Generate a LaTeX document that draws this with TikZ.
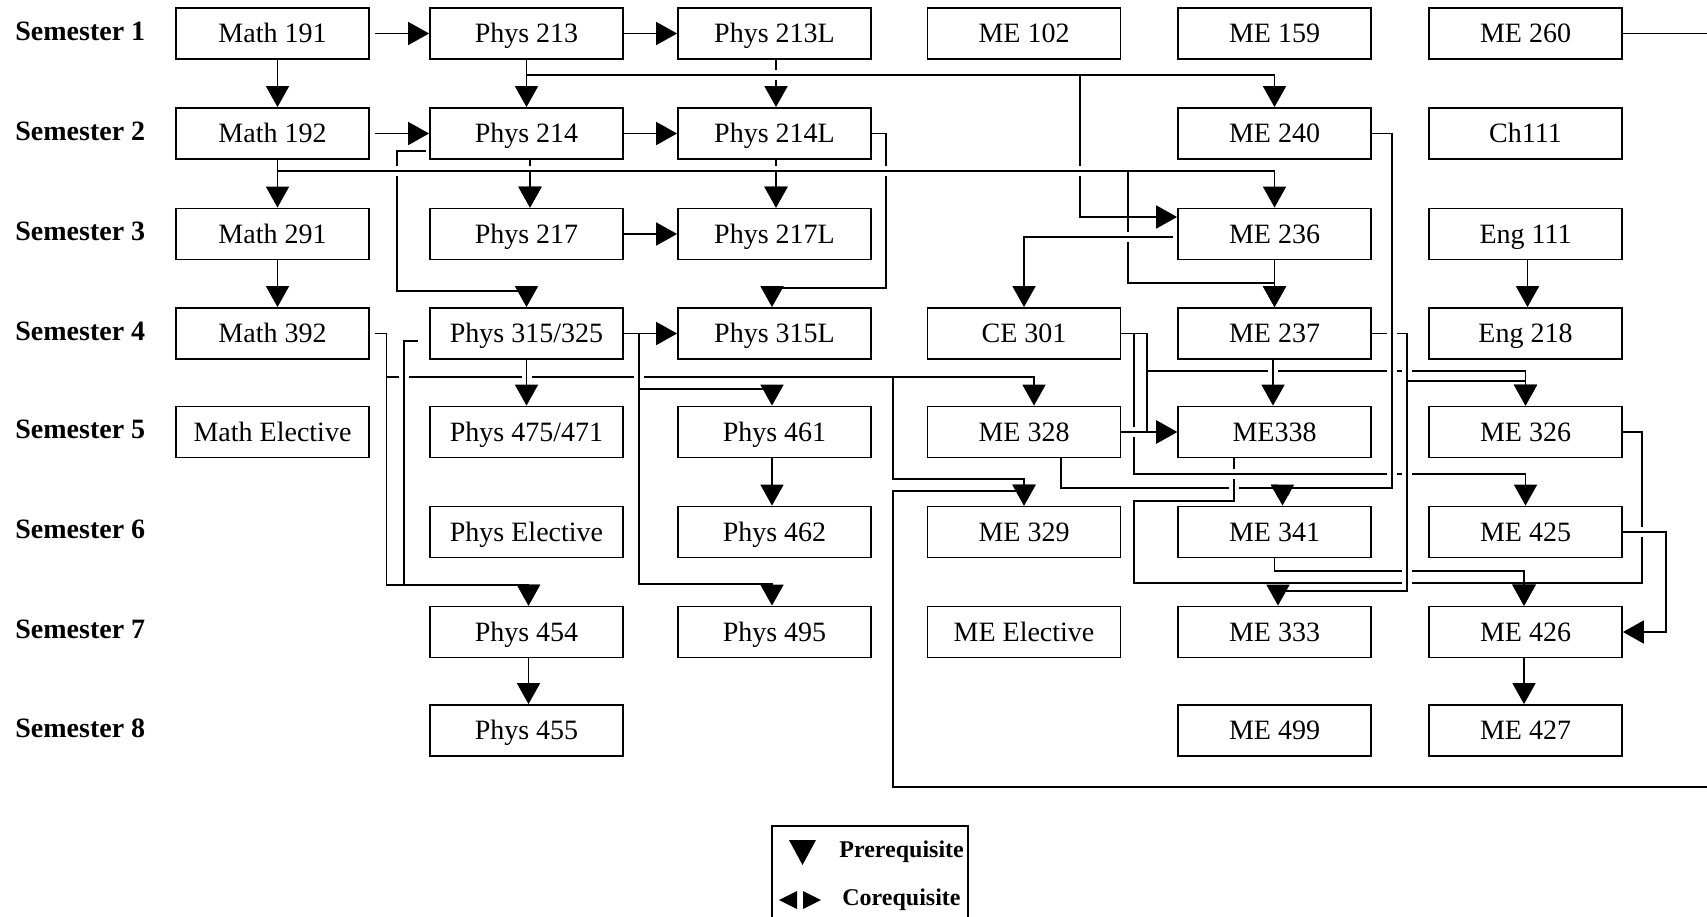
\documentclass[tikz,border=0pt]{standalone}
\usepackage{fontspec}
\setmainfont{Liberation Serif}
\usetikzlibrary{arrows.meta}
\pgfdeclarelayer{background}
\pgfsetlayers{background,main}
\begin{document}
\begin{tikzpicture}[x=0.5pt,y=-0.5pt,
  box/.style={draw,line width=0.9pt,fill=white,minimum width=96.5pt,minimum height=25.5pt,inner sep=0pt,text height=10.2pt,text depth=1pt,font=\fontsize{14}{16}\selectfont},
  sem/.style={anchor=west,inner sep=0pt,text height=10.2pt,text depth=1pt,font=\fontsize{14}{16}\selectfont\bfseries},
  legtext/.style={anchor=west,inner sep=0pt,font=\fontsize{12}{14}\selectfont\bfseries},
  conn/.style={line width=0.9pt},
  pre/.style={conn,-{Triangle[length=10.5pt,width=11.5pt]}},
  over/.style={preaction={draw=white,line width=5pt,-}}]
\useasboundingbox (0,0) rectangle (1707,916);

% semester labels
\node[sem] (s1) at (15,31) {Semester 1};
\node[sem] (s2) at (15,131) {Semester 2};
\node[sem] (s3) at (15,231.5) {Semester 3};
\node[sem] (s4) at (15,331) {Semester 4};
\node[sem] (s5) at (15,429.5) {Semester 5};
\node[sem] (s6) at (15,529.5) {Semester 6};
\node[sem] (s7) at (15,629.5) {Semester 7};
\node[sem] (s8) at (15,728) {Semester 8};

% row 1
\node[box] (m191) at (272.5,33.5) {Math 191};
\node[box] (p213) at (526.5,33.5) {Phys 213};
\node[box] (p213l) at (774.5,33.5) {Phys 213L};
\node[box] (me102) at (1024,33.5) {ME 102};
\node[box] (me159) at (1274.5,33.5) {ME 159};
\node[box] (me260) at (1525.5,33.5) {ME 260};
% row 2
\node[box] (m192) at (272.5,133.5) {Math 192};
\node[box] (p214) at (526.5,133.5) {Phys 214};
\node[box] (p214l) at (774.5,133.5) {Phys 214L};
\node[box] (me240) at (1274.5,133.5) {ME 240};
\node[box] (ch111) at (1525.5,133.5) {Ch111};
% row 3
\node[box] (m291) at (272.5,234) {Math 291};
\node[box] (p217) at (526.5,234) {Phys 217};
\node[box] (p217l) at (774.5,234) {Phys 217L};
\node[box] (me236) at (1274.5,234) {ME 236};
\node[box] (eng111) at (1525.5,234) {Eng 111};
% row 4
\node[box] (m392) at (272.5,333.5) {Math 392};
\node[box] (p315) at (526.5,333.5) {Phys 315/325};
\node[box] (p315l) at (774.5,333.5) {Phys 315L};
\node[box] (ce301) at (1024,333.5) {CE 301};
\node[box] (me237) at (1274.5,333.5) {ME 237};
\node[box] (eng218) at (1525.5,333.5) {Eng 218};
% row 5
\node[box] (mel) at (272.5,432) {Math Elective};
\node[box] (p475) at (526.5,432) {Phys 475/471};
\node[box] (p461) at (774.5,432) {Phys 461};
\node[box] (me328) at (1024,432) {ME 328};
\node[box] (me338) at (1274.5,432) {ME338};
\node[box] (me326) at (1525.5,432) {ME 326};
% row 6
\node[box] (pel) at (526.5,532) {Phys Elective};
\node[box] (p462) at (774.5,532) {Phys 462};
\node[box] (me329) at (1024,532) {ME 329};
\node[box] (me341) at (1274.5,532) {ME 341};
\node[box] (me425) at (1525.5,532) {ME 425};
% row 7
\node[box] (p454) at (526.5,632) {Phys 454};
\node[box] (p495) at (774.5,632) {Phys 495};
\node[box] (mee) at (1024,632) {ME Elective};
\node[box] (me333) at (1274.5,632) {ME 333};
\node[box] (me426) at (1525.5,632) {ME 426};
% row 8
\node[box] (p455) at (526.5,730.5) {Phys 455};
\node[box] (me499) at (1274.5,730.5) {ME 499};
\node[box] (me427) at (1525.5,730.5) {ME 427};

% legend
\node[legtext] (lpre) at (839,852) {Prerequisite};
\node[legtext] (lco) at (842,900) {Corequisite};

\begin{pgfonlayer}{background}
% legend box and symbols
\draw[conn] (772,826) rectangle (968,935);
\fill (789,840) -- (816,840) -- (802.5,865) -- cycle;
\fill (779,900) -- (797,891) -- (797,909) -- cycle;
\fill (821,900) -- (803,891) -- (803,909) -- cycle;

% simple arrows
\draw[pre] ([xshift=2.5pt]m191.south) -- ([xshift=2.5pt]m192.north);
\draw[pre] ([xshift=2.5pt]m191.east) -- (p213.west);
\draw[pre] (p213.east) -- (p213l.west);
\draw[pre] ([xshift=2.5pt]m192.east) -- (p214.west);
\draw[pre] (p214.east) -- (p214l.west);
\draw[pre] (p217.east) -- (p217l.west);
\draw[pre] ([xshift=2.5pt]m291.south) -- ([xshift=2.5pt]m392.north);

% Phys 213 group
\draw[pre] ([xshift=0.75pt]p213l.south) -- ([xshift=0.75pt]p214l.north);
\draw[pre,over] (p213.south) -- (526.5,75) -| (me240.north);
\draw[pre] (p213.south) -- (p214.north);
\draw[pre] (p213.south) -- (526.5,75) -- (1080,75) -- (1080,217) -- ([yshift=8.5pt]me236.west);

% under the Math 192 line
\draw[pre] ([xshift=1.75pt]p214.south) -- ([xshift=1.75pt]p217.north);
\draw[pre] ([xshift=0.75pt]p214l.south) -- ([xshift=0.75pt]p217l.north);
\draw[pre] ([xshift=-1.5pt,yshift=-8.75pt]p214.west) -- (397,151) -- (397,291) -| (p315.north);
\draw[pre] (p214l.east) -- (886,133.5) -- (886,288) -| ([xshift=-1.25pt]p315l.north);

% Math 192 line
\draw[pre,over] ([xshift=2.5pt]m192.south) -- (277.5,171) -| (me236.north);
\draw[pre] ([xshift=2.5pt]m192.south) -- ([xshift=2.5pt]m291.north);
\draw[pre] ([xshift=2.5pt]m192.south) -- (277.5,171) -| ([xshift=1.75pt]p217.north);
\draw[pre] ([xshift=2.5pt]m192.south) -- (277.5,171) -| ([xshift=0.75pt]p217l.north);
\draw[pre] ([xshift=2.5pt]m192.south) -- (277.5,171) -- (1128,171) -- (1128,283) -| (me237.north);
\draw[pre] (me236.south) -- (me237.north);
\draw[pre,over] ([xshift=-2pt,yshift=-1.5pt]me236.west) -- (1024,237) -- (ce301.north);

% Math 392 / Phys 315 group
\draw[pre] ([xshift=2.5pt]m392.east) -- (386.5,333.5) -- (386.5,377) -| ([xshift=5pt]me328.north);
\draw[pre] ([xshift=2.5pt]m392.east) -- (386.5,333.5) -- (386.5,377) -- (893,377) -- (893,479) -| (me329.north);
\draw[pre,over] ([xshift=-5.5pt,yshift=-3.75pt]p315.west) -- (404,341) -- (404,585) -| ([xshift=1pt]p454.north);
\draw[pre] ([xshift=2.5pt]m392.east) -- (386.5,333.5) -- (386.5,585) -| ([xshift=1pt]p454.north);
\draw[pre,over] (p315.south) -- (p475.north);
\draw[pre,over] (p315.east) -- (639,333.5) -- (639,584) -| ([xshift=-1.25pt]p495.north);
\draw[pre] (p315.east) -- (639,333.5) -- (639,389) -| ([xshift=-1.25pt]p461.north);
\draw[pre] (p315.east) -- (p315l.west);
\draw[pre] ([xshift=-1.25pt]p461.south) -- ([xshift=-1.25pt]p462.north);
\draw[pre] ([xshift=1pt]p454.south) -- ([xshift=1pt]p455.north);

% ME 260 to ME 329 round the edge
\draw[pre] (me260.east) -- (1716,33.5) -- (1716,787) -- (893,787) -- (893,491) -| (me329.north);

% ME group
\draw[pre] ([xshift=18.5pt]me328.south) -- (1061,488) -| ([xshift=4pt]me341.north);
\draw[pre,over] ([xshift=-20.25pt]me338.south) -- (1234,501) -- (1134,501) -- (1134,583) -| ([xshift=-0.75pt]me426.north);
\draw[pre] (me341.south) -- (1274.5,571) -| ([xshift=-0.75pt]me426.north);
\draw[pre] (me326.east) -- (1642,432) -- (1642,583) -| ([xshift=-0.75pt]me426.north);
\draw[pre,over] (ce301.east) -- (1134,333.5) -- (1134,474) -| (me425.north);
\draw[pre,over] (me328.east) -- (me338.west);
\draw[pre] (ce301.east) -- (1147,333.5) -- (1147,432) -- (me338.west);
\draw[pre] (ce301.east) -- (1147,333.5) -- (1147,371) -| (me326.north);
\draw[pre,over] ([xshift=-0.75pt]me237.south) -- ([xshift=-0.75pt]me338.north);
\draw[pre,over] (me237.east) -- (1407,333.5) -- (1407,591) -| ([xshift=1.75pt]me333.north);
\draw[pre] (me237.east) -- (1407,333.5) -- (1407,381) -| (me326.north);
\draw[pre,over] (me240.east) -- (1392,133.5) -- (1392,488) -| ([xshift=4pt]me341.north);
\draw[pre,over] (me425.east) -- (1666,532) -- (1666,632) -- (me426.east);
\draw[pre] ([xshift=1pt]eng111.south) -- ([xshift=1pt]eng218.north);
\draw[pre] ([xshift=-0.75pt]me426.south) -- ([xshift=-0.75pt]me427.north);
\end{pgfonlayer}
\end{tikzpicture}
\end{document}
